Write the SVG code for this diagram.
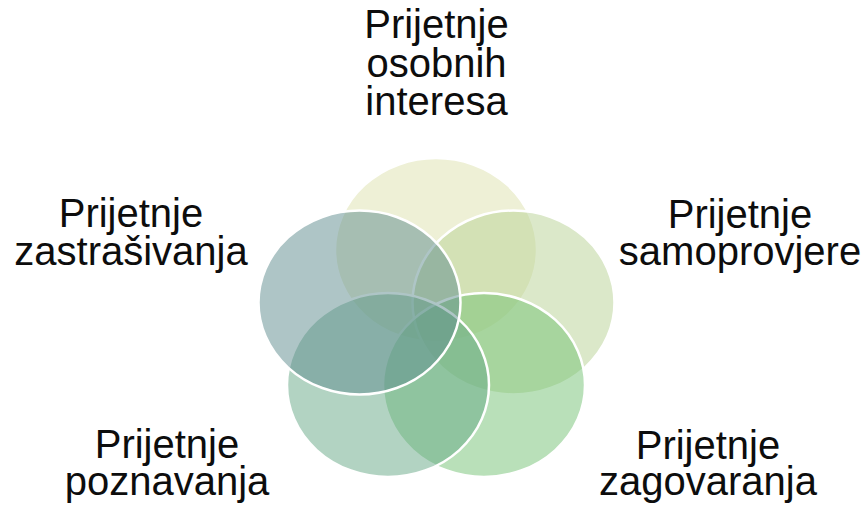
<svg xmlns="http://www.w3.org/2000/svg" width="867" height="508" viewBox="0 0 867 508">
<style>
.c{stroke:#ffffff;stroke-width:2.5;fill-opacity:0.5}
.t{font-family:"Liberation Sans",Arial,sans-serif;font-size:40px;fill:#0d0d0d;text-anchor:middle}
</style>
<rect width="867" height="508" fill="#ffffff"/>
<g id="connectors"/>
<g id="node-osobnih">
<ellipse class="c" cx="436" cy="250" rx="101" ry="92" fill="#DDE1AD"/>
<text class="t" x="436.5" y="38">Prijetnje</text>
<text class="t" x="436.5" y="76.5">osobnih</text>
<text class="t" x="436.5" y="115">interesa</text>
</g>
<g id="node-samoprovjere">
<ellipse class="c" cx="513.5" cy="302.5" rx="101" ry="92" fill="#B7D193"/>
<text class="t" x="740" y="228">Prijetnje</text>
<text class="t" x="740" y="265">samoprovjere</text>
</g>
<g id="node-zagovaranja">
<ellipse class="c" cx="484" cy="385" rx="101" ry="92" fill="#73C173"/>
<text class="t" x="708" y="459">Prijetnje</text>
<text class="t" x="708" y="495">zagovaranja</text>
</g>
<g id="node-poznavanja">
<ellipse class="c" cx="388" cy="385" rx="101" ry="92" fill="#65A785"/>
<text class="t" x="167" y="458">Prijetnje</text>
<text class="t" x="167" y="495">poznavanja</text>
</g>
<g id="node-zastrasivanja">
<ellipse class="c" cx="359.5" cy="302.5" rx="101" ry="92" fill="#5D8B8D"/>
<text class="t" x="131" y="227">Prijetnje</text>
<text class="t" x="131" y="265">zastrašivanja</text>
</g>
</svg>
